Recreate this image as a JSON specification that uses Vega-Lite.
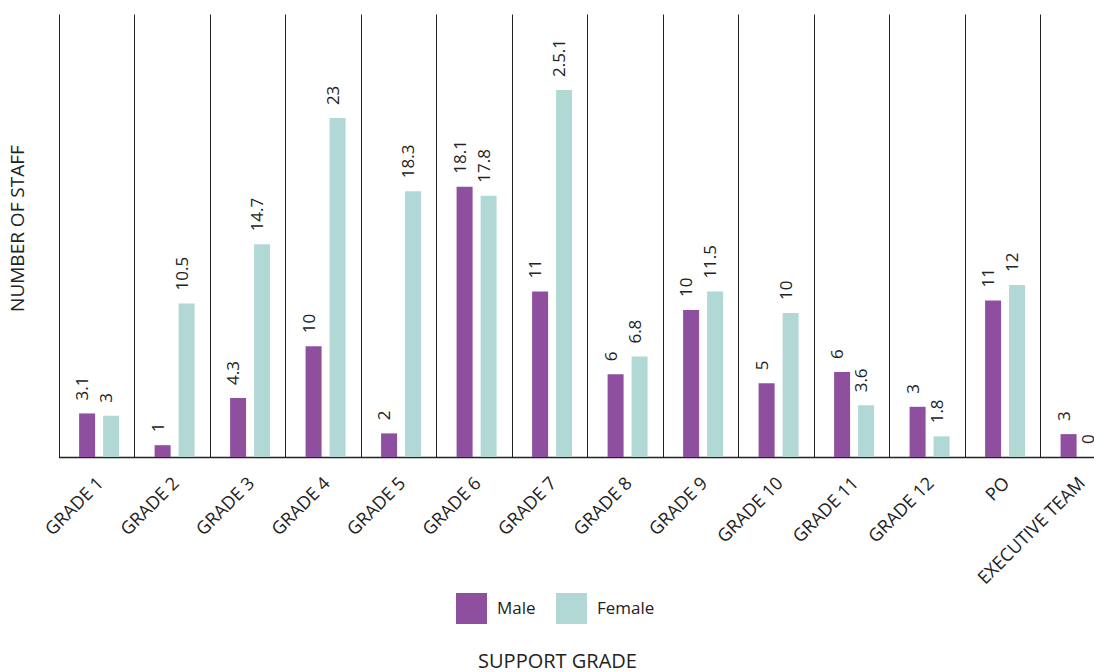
{
  "$schema": "https://vega.github.io/schema/vega-lite/v6.json",
  "width": 1041,
  "height": 443,
  "autosize": "none",
  "padding": {"left": 53, "top": 14, "right": 0, "bottom": 215},
  "config": {"view": {"stroke": null}, "font": "Open Sans"},
  "data": {
    "values": [
      {"grade": "GRADE 1", "gender": "Male", "value": 2.95, "label": "3.1"},
      {"grade": "GRADE 1", "gender": "Female", "value": 2.8, "label": "3"},
      {"grade": "GRADE 2", "gender": "Male", "value": 0.8, "label": "1"},
      {"grade": "GRADE 2", "gender": "Female", "value": 10.4, "label": "10.5"},
      {"grade": "GRADE 3", "gender": "Male", "value": 4.0, "label": "4.3"},
      {"grade": "GRADE 3", "gender": "Female", "value": 14.4, "label": "14.7"},
      {"grade": "GRADE 4", "gender": "Male", "value": 7.5, "label": "10"},
      {"grade": "GRADE 4", "gender": "Female", "value": 22.95, "label": "23"},
      {"grade": "GRADE 5", "gender": "Male", "value": 1.6, "label": "2"},
      {"grade": "GRADE 5", "gender": "Female", "value": 18.0, "label": "18.3"},
      {"grade": "GRADE 6", "gender": "Male", "value": 18.3, "label": "18.1"},
      {"grade": "GRADE 6", "gender": "Female", "value": 17.7, "label": "17.8"},
      {"grade": "GRADE 7", "gender": "Male", "value": 11.2, "label": "11"},
      {"grade": "GRADE 7", "gender": "Female", "value": 24.85, "label": "2.5.1"},
      {"grade": "GRADE 8", "gender": "Male", "value": 5.6, "label": "6"},
      {"grade": "GRADE 8", "gender": "Female", "value": 6.8, "label": "6.8"},
      {"grade": "GRADE 9", "gender": "Male", "value": 9.95, "label": "10"},
      {"grade": "GRADE 9", "gender": "Female", "value": 11.2, "label": "11.5"},
      {"grade": "GRADE 10", "gender": "Male", "value": 5.0, "label": "5"},
      {"grade": "GRADE 10", "gender": "Female", "value": 9.75, "label": "10"},
      {"grade": "GRADE 11", "gender": "Male", "value": 5.75, "label": "6"},
      {"grade": "GRADE 11", "gender": "Female", "value": 3.5, "label": "3.6"},
      {"grade": "GRADE 12", "gender": "Male", "value": 3.4, "label": "3"},
      {"grade": "GRADE 12", "gender": "Female", "value": 1.4, "label": "1.8"},
      {"grade": "PO", "gender": "Male", "value": 10.6, "label": "11"},
      {"grade": "PO", "gender": "Female", "value": 11.65, "label": "12"},
      {"grade": "EXECUTIVE TEAM", "gender": "Male", "value": 1.55, "label": "3"},
      {"grade": "EXECUTIVE TEAM", "gender": "Female", "value": 0, "label": "0"}
    ]
  },
  "encoding": {
    "x": {
      "field": "grade",
      "type": "nominal",
      "sort": null,
      "scale": {"range": [5.5, 1062.5], "paddingInner": 0, "paddingOuter": 0},
      "axis": {
        "title": "SUPPORT GRADE",
        "labelAngle": -45,
        "tickBand": "extent",
        "grid": true,
        "gridColor": "#222",
        "gridWidth": 1,
        "ticks": false,
        "domainColor": "#222",
        "domainWidth": 1.5,
        "labelFontSize": 18,
        "labelColor": "#222",
        "labelOffset": -2,
        "labelPadding": 17,
        "titleFontSize": 20,
        "titleFontWeight": "normal",
        "titleColor": "#222",
        "titlePadding": 64,
        "titleX": 504
      }
    },
    "y": {
      "field": "value",
      "type": "quantitative",
      "scale": {"domain": [0, 30]},
      "axis": {
        "title": "NUMBER OF STAFF",
        "labels": false,
        "ticks": false,
        "grid": false,
        "domain": false,
        "titleFontSize": 19,
        "titleFontWeight": "normal",
        "titleColor": "#222",
        "titlePadding": 26,
        "titleY": 214
      }
    },
    "xOffset": {
      "field": "gender",
      "type": "nominal",
      "sort": ["Male", "Female"],
      "scale": {"paddingInner": 0.333, "paddingOuter": 0.74, "align": 0.58}
    }
  },
  "layer": [
    {
      "mark": {"type": "bar"},
      "encoding": {
        "color": {
          "field": "gender",
          "type": "nominal",
          "sort": ["Male", "Female"],
          "scale": {"domain": ["Male", "Female"], "range": ["#8E509E", "#B2D8D5"]},
          "legend": {
            "title": null,
            "orient": "none",
            "legendX": 403,
            "legendY": 579,
            "direction": "horizontal",
            "symbolType": "square",
            "symbolSize": 961,
            "symbolStrokeWidth": 0,
            "symbolOpacity": 1,
            "labelFontSize": 17,
            "labelColor": "#222",
            "labelOffset": 10,
            "columnPadding": 20
          }
        }
      }
    },
    {
      "mark": {"type": "text", "angle": 270, "align": "left", "baseline": "alphabetic", "dx": 13, "dy": 1, "fontSize": 17, "color": "#222"},
      "encoding": {"text": {"field": "label"}}
    }
  ]
}
